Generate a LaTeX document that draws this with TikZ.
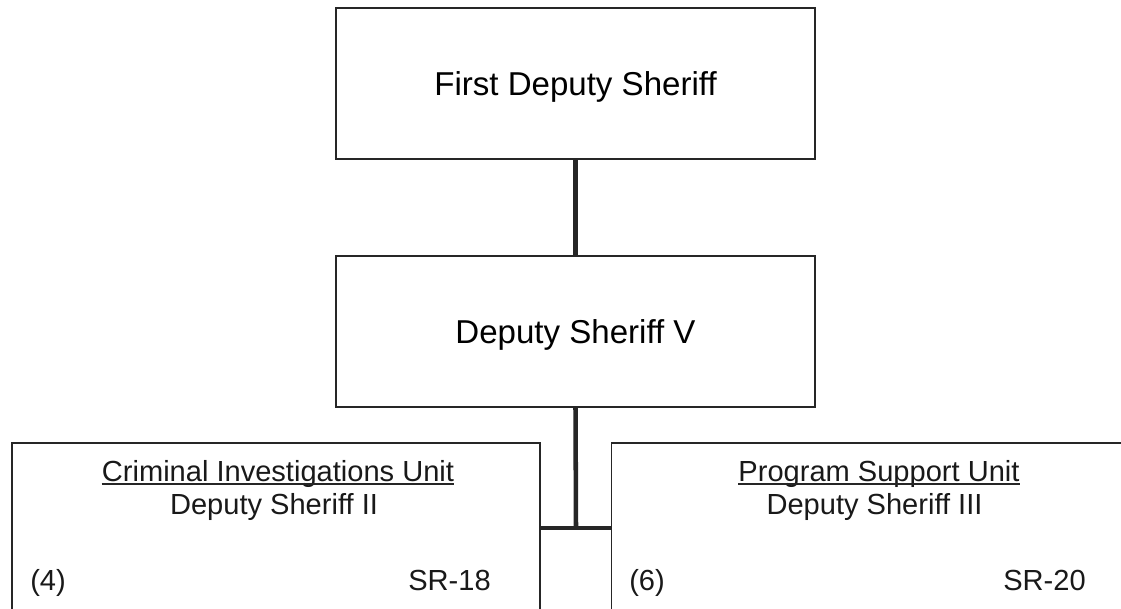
\documentclass[tikz,border=0pt]{standalone}
\usepackage{fontspec}
\setmainfont{Liberation Sans}
\usepackage{tikz}
\tikzset{
  post/.style={draw=black!85, line width=1.1pt, inner sep=0pt},
  bigpost/.style={post, minimum width=359pt, minimum height=113pt,
    font=\fontsize{24.8}{29}\selectfont, text height=17.8pt, text depth=0pt},
  unitpost/.style={post, minimum width=396pt, minimum height=150pt},
  unittext/.style={inner sep=0pt, font=\fontsize{21.8}{26}\selectfont, text=black!90},
  link/.style={draw=black!85, line width=3.4pt}
}

\begin{document}
\begin{tikzpicture}[x=0.75pt,y=-0.75pt]
\useasboundingbox (0,0) rectangle (1121,608);
\node [bigpost] (first) at (575.5,83.5) {First Deputy Sheriff};
\node [bigpost] (five) at (575.5,331.5) {Deputy Sheriff V};
\node [unitpost] (crim) at (276,543) {};
\node [unitpost] (prog) at (875.5,543) {};
\coordinate (split) at (576,528);
\draw [link] (first.south) -- (five.north);
\draw [link] (five.south) -- (split);
\draw [link, line width=3pt] (crim.east |- split) -- (prog.west |- split);
\node [unittext, anchor=base] (crimname) at (278,481) {Criminal Investigations Unit\ };
\node [unittext, anchor=base] (crimrank) at (274,514) {Deputy Sheriff II};
\node [unittext, anchor=base west] (crimcount) at (30,590) {(4)};
\node [unittext, anchor=base east] (crimgrade) at (491,590) {SR-18};
\node [unittext, anchor=base] (progname) at (879,481) {Program Support Unit\ };
\node [unittext, anchor=base] (progrank) at (874.5,514) {Deputy Sheriff III};
\node [unittext, anchor=base west] (progcount) at (629,590) {(6)};
\node [unittext, anchor=base east] (proggrade) at (1086,590) {SR-20};
\draw [line width=0.9pt, black!85] ([yshift=-2.2pt]crimname.base west) -- ([yshift=-2.2pt]crimname.base east);
\draw [line width=0.9pt, black!85] ([yshift=-2.2pt]progname.base west) -- ([yshift=-2.2pt]progname.base east);
\end{tikzpicture}
\end{document}
